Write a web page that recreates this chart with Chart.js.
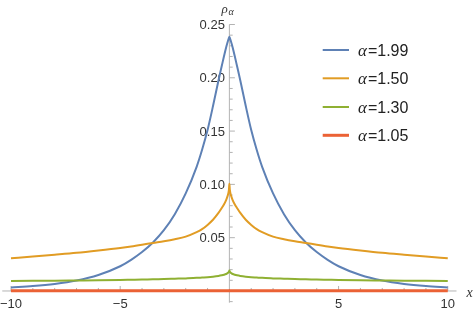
<!DOCTYPE html>
<html><head><meta charset="utf-8">
<script src="https://cdn.jsdelivr.net/npm/chart.js@4/dist/chart.umd.min.js"></script>
<style>html,body{margin:0;padding:0;background:#fff;overflow:hidden}canvas{display:block}</style>
</head><body>
<canvas id="c" width="474" height="311"></canvas>
<script>
const xValues = [-10,-9,-8,-7,-6,-5,-4.5,-4,-3.5,-3,-2.5,-2,-1.5,-1.25,-1,-0.75,-0.5,-0.35,-0.25,-0.15,-0.1,-0.05,-0.02,0,0.02,0.05,0.1,0.15,0.25,0.35,0.5,0.75,1,1.25,1.5,2,2.5,3,3.5,4,4.5,5,6,7,8,9,10];
const rho199 = [0.0033,0.0046,0.0066,0.0098,0.0150,0.0232,0.0292,0.0365,0.0455,0.0570,0.0720,0.0915,0.1165,0.1325,0.1510,0.1735,0.1975,0.2110,0.2200,0.2285,0.2322,0.2356,0.2374,0.2386,0.2374,0.2356,0.2322,0.2285,0.2200,0.2110,0.1975,0.1735,0.1510,0.1325,0.1165,0.0915,0.0720,0.0570,0.0455,0.0365,0.0292,0.0232,0.0150,0.0098,0.0066,0.0046,0.0033];
const rho150 = [0.0307,0.0323,0.0340,0.0358,0.0380,0.0404,0.0418,0.0434,0.0451,0.0467,0.0486,0.0510,0.0552,0.0580,0.0620,0.0668,0.0732,0.0778,0.0811,0.0853,0.0880,0.0915,0.0950,0.1005,0.0950,0.0915,0.0880,0.0853,0.0811,0.0778,0.0732,0.0668,0.0620,0.0580,0.0552,0.0510,0.0486,0.0467,0.0451,0.0434,0.0418,0.0404,0.0380,0.0358,0.0340,0.0323,0.0307];
const rho130 = [0.0094,0.0095,0.0096,0.0098,0.0100,0.0103,0.0105,0.0107,0.0110,0.0112,0.0115,0.0118,0.0123,0.0126,0.0129,0.0134,0.0141,0.0147,0.0152,0.0159,0.0165,0.0173,0.0181,0.0192,0.0181,0.0173,0.0165,0.0159,0.0152,0.0147,0.0141,0.0134,0.0129,0.0126,0.0123,0.0118,0.0115,0.0112,0.0110,0.0107,0.0105,0.0103,0.0100,0.0098,0.0096,0.0095,0.0094];
const rho105 = [0.0003,0.0003,0.0003,0.0003,0.0003,0.0003,0.0003,0.0003,0.0003,0.0003,0.0003,0.0003,0.0003,0.0003,0.0003,0.0003,0.0003,0.0003,0.0003,0.0003,0.0003,0.0003,0.0003,0.0004,0.0003,0.0003,0.0003,0.0003,0.0003,0.0003,0.0003,0.0003,0.0003,0.0003,0.0003,0.0003,0.0003,0.0003,0.0003,0.0003,0.0003,0.0003,0.0003,0.0003,0.0003,0.0003,0.0003];
const alphaLabels = ['1.99','1.50','1.30','1.05'];
const xTickValues = [-10,-5,5,10];
const yTickLabels = ['0.05','0.10','0.15','0.20','0.25'];

const colors = ['#5E81B5','#E19C24','#8FB032','#EB6235'];
const widths = [2,2,2,3];
const seriesValues = [rho199, rho150, rho130, rho105];

const datasets = seriesValues.map((arr, i) => ({
  label: '\u03b1=' + alphaLabels[i],
  data: xValues.map((x, j) => ({x: x, y: arr[j]})),
  borderColor: colors[i],
  backgroundColor: colors[i],
  borderWidth: widths[i],
  pointRadius: 0,
  fill: false,
  cubicInterpolationMode: 'monotone',
  order: 3 - i
}));

const mmaPlugin = {
  id: 'mmaAxes',
  beforeDatasetsDraw(chart) {
    const ctx = chart.ctx, xs = chart.scales.x, ys = chart.scales.y;
    const x0 = xs.getPixelForValue(0), y0 = ys.getPixelForValue(0);
    ctx.save();
    ctx.strokeStyle = '#b3b3b3';
    ctx.lineWidth = 1;
    const seg = (a,b,c,d) => { ctx.beginPath(); ctx.moveTo(a,b); ctx.lineTo(c,d); ctx.stroke(); };
    seg(xs.left, y0, xs.right, y0);
    seg(x0, ys.top, x0, ys.bottom);
    for (let v = -10; v <= 10; v++) {
      if (v === 0) continue;
      const px = xs.getPixelForValue(v);
      seg(px, y0, px, y0 - (v % 5 === 0 ? 5 : 3));
    }
    for (let k = -1; k <= 25; k++) {
      if (k === 0) continue;
      const py = ys.getPixelForValue(k / 100);
      seg(x0, py, x0 + (k % 5 === 0 ? 5.5 : 3.3), py);
    }
    ctx.fillStyle = '#333';
    ctx.font = '13px "Liberation Sans", Arial, sans-serif';
    ctx.textBaseline = 'alphabetic';
    ctx.textAlign = 'right';
    yTickLabels.forEach(t => {
      const py = ys.getPixelForValue(parseFloat(t));
      ctx.fillText(t, x0 - 4.5, py + 4.6);
    });
    ctx.textAlign = 'center';
    xTickValues.forEach(v => {
      const px = xs.getPixelForValue(v);
      const t = (v < 0 ? '\u2212' : '') + Math.abs(v);
      ctx.fillText(t, px, y0 + 17);
    });
    // axis titles
    ctx.textAlign = 'left';
    ctx.font = 'italic 13px "Liberation Serif", serif';
    ctx.fillText('\u03c1', x0 - 8, 12.5);
    ctx.font = 'italic 10px "Liberation Serif", serif';
    ctx.fillText('\u03b1', x0 - 1, 15);
    ctx.font = 'italic 14px "Liberation Serif", serif';
    ctx.fillText('x', 466.5, 296.5);
    ctx.restore();
  },
  afterDatasetsDraw(chart) {
    const ctx = chart.ctx;
    ctx.save();
    const rows = [50, 78.3, 107, 135.3];
    chart.data.datasets.forEach((ds, i) => {
      const yy = rows[i];
      ctx.strokeStyle = ds.borderColor;
      ctx.lineWidth = ds.borderWidth;
      ctx.beginPath(); ctx.moveTo(322.7, yy); ctx.lineTo(349, yy); ctx.stroke();
      ctx.fillStyle = '#222';
      ctx.textBaseline = 'alphabetic';
      ctx.textAlign = 'left';
      ctx.font = 'italic 17px "Liberation Serif", serif';
      ctx.fillText('\u03b1', 358, yy + 5.5);
      const w = ctx.measureText('\u03b1').width;
      ctx.font = '16px "Liberation Sans", Arial, sans-serif';
      ctx.fillText('=' + alphaLabels[i], 358 + w + 1, yy + 5.5);
    });
    ctx.restore();
  }
};

new Chart(document.getElementById('c'), {
  type: 'line',
  data: { datasets: datasets },
  options: {
    responsive: false,
    animation: false,
    devicePixelRatio: 1,
    layout: { padding: { left: 2.27, right: 17.5, top: 24.5, bottom: 8.3 } },
    plugins: { legend: { display: false }, tooltip: { enabled: false } },
    scales: {
      x: { type: 'linear', min: -10.4, max: 10.4, display: false },
      y: { type: 'linear', min: -0.011, max: 0.25, display: false }
    }
  },
  plugins: [mmaPlugin]
});
</script>
</body></html>
